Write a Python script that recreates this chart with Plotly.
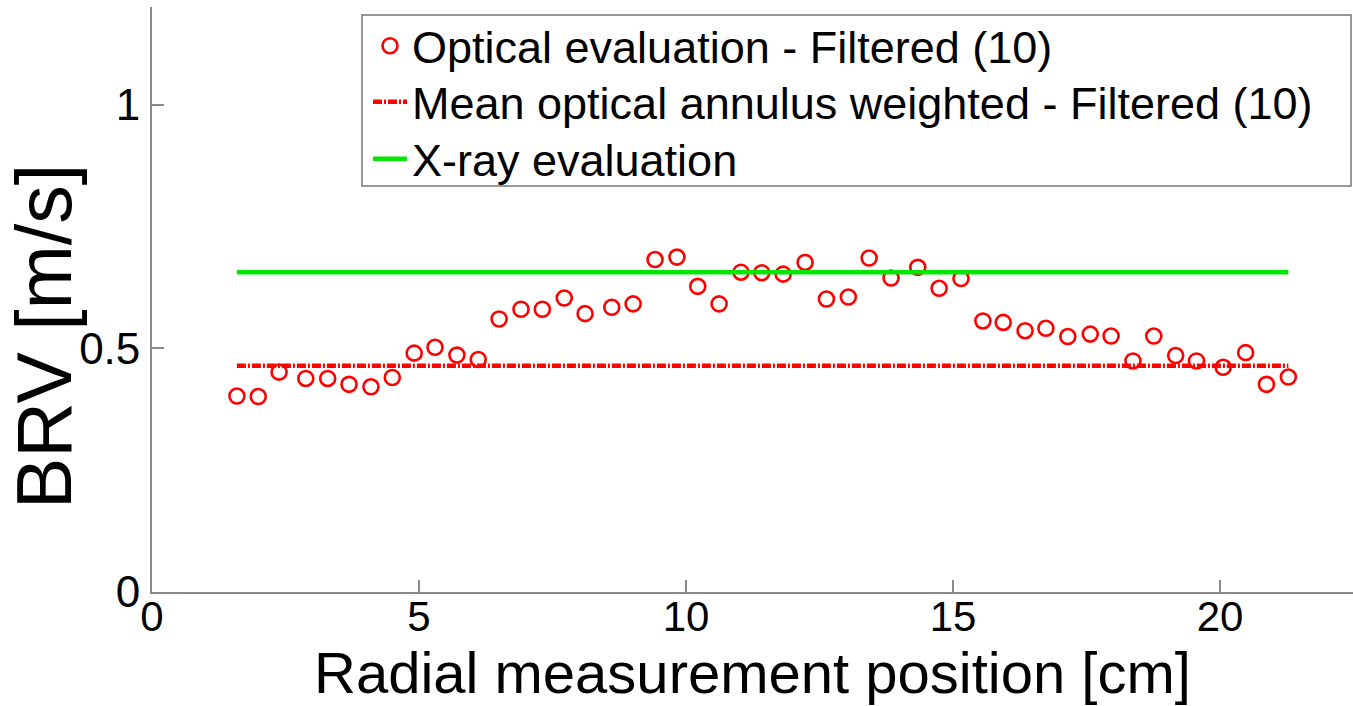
import plotly.graph_objects as go

# Data
x_pos = [1.59, 1.99, 2.38, 2.88, 3.29, 3.69, 4.10, 4.50, 4.91, 5.30, 5.71, 6.11, 6.50,
         6.91, 7.31, 7.72, 8.11, 8.61, 9.01, 9.42, 9.83, 10.22, 10.62, 11.03, 11.42,
         11.82, 12.23, 12.63, 13.04, 13.43, 13.84, 14.34, 14.74, 15.15, 15.56, 15.94,
         16.35, 16.74, 17.15, 17.57, 17.96, 18.37, 18.76, 19.17, 19.56, 20.06, 20.48,
         20.87, 21.28]
brv_optical = [0.402, 0.401, 0.451, 0.438, 0.438, 0.426, 0.421, 0.440, 0.490, 0.502, 0.486,
               0.477, 0.560, 0.580, 0.580, 0.603, 0.571, 0.584, 0.591, 0.682, 0.687, 0.627,
               0.591, 0.656, 0.655, 0.652, 0.676, 0.601, 0.605, 0.685, 0.644, 0.666, 0.623,
               0.643, 0.556, 0.553, 0.536, 0.541, 0.524, 0.529, 0.525, 0.474, 0.525, 0.485,
               0.474, 0.461, 0.491, 0.426, 0.441]
mean_weighted = 0.464
xray_value = 0.656
x_ticks = [0, 5, 10, 15, 20]
y_ticks = [0, 0.5, 1]
y_tick_labels = ["0", "0.5", "1"]

FONT = "Liberation Sans, Arial, sans-serif"
AXIS_GRAY = "#8a8a8a"

line_x = [x_pos[0], x_pos[-1]]

fig = go.Figure()
fig.add_trace(go.Scatter(
    x=x_pos, y=brv_optical, mode="markers",
    name="Optical evaluation - Filtered (10)", legend="legend",
    marker=dict(symbol="circle-open", size=15, color="#ff0000",
                line=dict(width=2.6, color="#ff0000")),
))
fig.add_trace(go.Scatter(
    x=line_x, y=[mean_weighted, mean_weighted], mode="lines",
    name="Mean optical annulus weighted - Filtered (10)", legend="legend2",
    line=dict(color="#ff0000", width=4.5, dash="9px,2px,2px,2px"),
))
fig.add_trace(go.Scatter(
    x=line_x, y=[xray_value, xray_value], mode="lines",
    name="X-ray evaluation", legend="legend3",
    line=dict(color="#00e600", width=4.5),
))

W, H = 1353, 706
ml, mr, mt, mb = 152, 0, 7, 114
pw = W - ml - mr
ph = H - mt - mb
px_per_unit = 53.4
base_y = H - mb  # pixel row of y=0


def px_x(p):
    return (p - ml) / pw


def px_y(p):
    return (base_y - p) / ph


def legend_at(top_px):
    return dict(
        x=px_x(368), y=px_y(top_px), xanchor="left", yanchor="top",
        bgcolor="rgba(0,0,0,0)", borderwidth=0,
        font=dict(family=FONT, size=45, color="black"),
        itemwidth=34, tracegroupgap=0,
    )


fig.update_layout(
    width=W, height=H,
    margin=dict(l=ml, r=mr, t=mt, b=mb, pad=0),
    paper_bgcolor="white", plot_bgcolor="white",
    font=dict(family=FONT, size=45, color="black"),
    showlegend=True,
    legend=legend_at(10),
    legend2=legend_at(66),
    legend3=legend_at(123),
    shapes=[dict(
        type="rect", xref="paper", yref="paper",
        x0=px_x(362), x1=px_x(1351), y0=px_y(186), y1=px_y(15),
        line=dict(color="#777777", width=1.5), fillcolor="white", layer="above",
    )],
    xaxis=dict(
        range=[0, pw / px_per_unit], tickmode="array", tickvals=x_ticks,
        ticks="inside", ticklen=12, tickwidth=1.5, tickcolor=AXIS_GRAY,
        showline=True, linecolor=AXIS_GRAY, linewidth=1.8,
        showgrid=False, zeroline=False, ticklabelstandoff=-13,
        tickfont=dict(family=FONT, size=42, color="black"),
    ),
    yaxis=dict(
        range=[0, 1.2], tickmode="array", tickvals=y_ticks, ticktext=y_tick_labels,
        ticks="inside", ticklen=12, tickwidth=1.5, tickcolor=AXIS_GRAY,
        showline=True, linecolor=AXIS_GRAY, linewidth=1.8,
        showgrid=False, zeroline=False, ticklabelstandoff=1,
        tickfont=dict(family=FONT, size=44, color="black"),
    ),
    annotations=[
        dict(text="Radial measurement position [cm]", xref="paper", yref="paper",
             x=0.5, y=px_y(672), xanchor="center", yanchor="middle",
             showarrow=False, borderpad=0,
             font=dict(family=FONT, size=58, color="black")),
        dict(text="BRV [m/s]", xref="paper", yref="paper",
             x=px_x(44), y=px_y(337), xanchor="center", yanchor="middle",
             textangle=-90, showarrow=False, borderpad=0,
             font=dict(family=FONT, size=77, color="black")),
    ],
)

fig.write_html("out.html")
